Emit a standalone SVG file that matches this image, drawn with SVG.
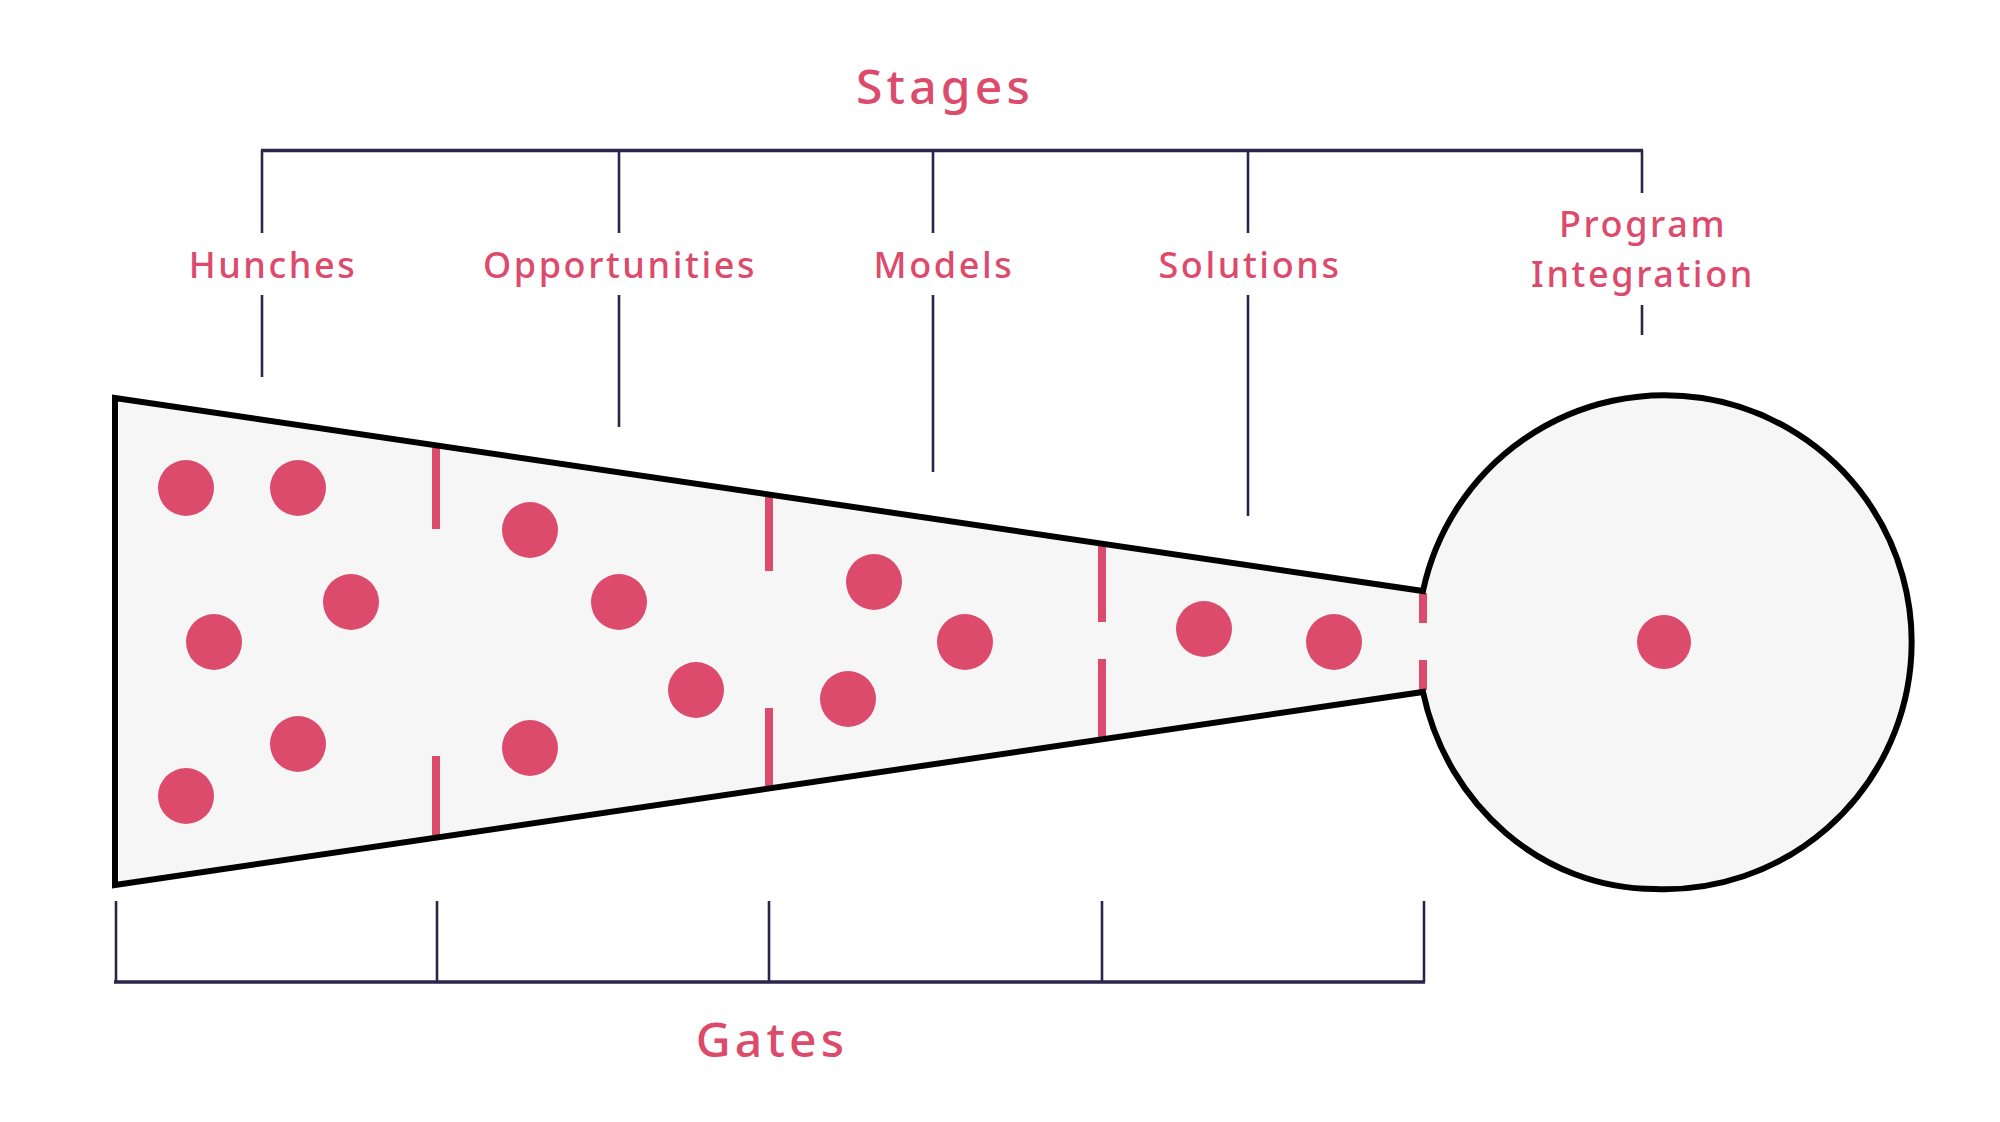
<svg xmlns="http://www.w3.org/2000/svg" width="2000" height="1122" viewBox="0 0 2000 1122">
<style>
.lbl{font-family:"Noto Sans","Open Sans",sans-serif;font-weight:500;fill:#dc4a6c;text-anchor:middle}
.sm{font-size:36px;letter-spacing:2.6px}
.lg{font-size:48px;letter-spacing:4.2px}
.brk{stroke:#29264a;stroke-width:2.6;fill:none}
.brkh{stroke:#29264a;stroke-width:3.6;fill:none}
.dot{fill:#dc4a6c}
.gate{stroke:#dc4a6c;stroke-width:8;fill:none}
.outline{fill:none;stroke:#000;stroke-width:6;stroke-linejoin:miter}
</style>
<rect width="2000" height="1122" fill="#fff"/>
<g id="funnel">
<path d="M115,398 L1423,591 A247,247 0 1,1 1655,889 C1543,889 1447,806 1423,692 L115,885 Z" fill="#f6f6f6"/>
</g>
<g id="gates-marks">
<line class="gate" x1="436" y1="448" x2="436" y2="529"/>
<line class="gate" x1="436" y1="756" x2="436" y2="835"/>
<line class="gate" x1="769" y1="497" x2="769" y2="571"/>
<line class="gate" x1="769" y1="708" x2="769" y2="786"/>
<line class="gate" x1="1102" y1="546" x2="1102" y2="622"/>
<line class="gate" x1="1102" y1="659" x2="1102" y2="737"/>
<line class="gate" x1="1423" y1="593" x2="1423" y2="623"/>
<line class="gate" x1="1423" y1="660" x2="1423" y2="690"/>
</g>
<g id="funnel-outline">
<path class="outline" d="M115,398 L1423,591 A247,247 0 1,1 1655,889 C1543,889 1447,806 1423,692 L115,885 Z"/>
</g>
<g id="dots">
<circle class="dot" cx="186" cy="488" r="28"/>
<circle class="dot" cx="298" cy="488" r="28"/>
<circle class="dot" cx="351" cy="602" r="28"/>
<circle class="dot" cx="214" cy="642" r="28"/>
<circle class="dot" cx="298" cy="744" r="28"/>
<circle class="dot" cx="186" cy="796" r="28"/>
<circle class="dot" cx="530" cy="530" r="28"/>
<circle class="dot" cx="619" cy="602" r="28"/>
<circle class="dot" cx="696" cy="690" r="28"/>
<circle class="dot" cx="530" cy="748" r="28"/>
<circle class="dot" cx="874" cy="582" r="28"/>
<circle class="dot" cx="965" cy="642" r="28"/>
<circle class="dot" cx="848" cy="699" r="28"/>
<circle class="dot" cx="1204" cy="629" r="28"/>
<circle class="dot" cx="1334" cy="642" r="28"/>
<circle class="dot" cx="1664" cy="642" r="27"/>
</g>
<g id="connectors">
<line class="brkh" x1="261" y1="150.5" x2="1643" y2="150.5"/>
<line class="brk" x1="262" y1="150" x2="262" y2="233"/>
<line class="brk" x1="262" y1="295" x2="262" y2="377"/>
<line class="brk" x1="619" y1="150" x2="619" y2="233"/>
<line class="brk" x1="619" y1="295" x2="619" y2="427"/>
<line class="brk" x1="933" y1="150" x2="933" y2="233"/>
<line class="brk" x1="933" y1="295" x2="933" y2="472"/>
<line class="brk" x1="1248" y1="150" x2="1248" y2="233"/>
<line class="brk" x1="1248" y1="295" x2="1248" y2="516"/>
<line class="brk" x1="1642" y1="150" x2="1642" y2="193"/>
<line class="brk" x1="1642" y1="305" x2="1642" y2="335"/>
<line class="brkh" x1="114" y1="982" x2="1425" y2="982"/>
<line class="brk" x1="116" y1="901" x2="116" y2="982"/>
<line class="brk" x1="437" y1="901" x2="437" y2="982"/>
<line class="brk" x1="769" y1="901" x2="769" y2="982"/>
<line class="brk" x1="1102" y1="901" x2="1102" y2="982"/>
<line class="brk" x1="1424" y1="901" x2="1424" y2="982"/>
</g>
<g id="labels">
<text class="lbl lg" x="945" y="104">Stages</text>
<text class="lbl sm" x="273" y="278">Hunches</text>
<text class="lbl sm" x="620" y="278">Opportunities</text>
<text class="lbl sm" x="944" y="278">Models</text>
<text class="lbl sm" x="1250" y="278">Solutions</text>
<text class="lbl sm" x="1643" y="237">Program</text>
<text class="lbl sm" x="1643" y="287">Integration</text>
<text class="lbl lg" x="772" y="1057">Gates</text>
</g>
</svg>
